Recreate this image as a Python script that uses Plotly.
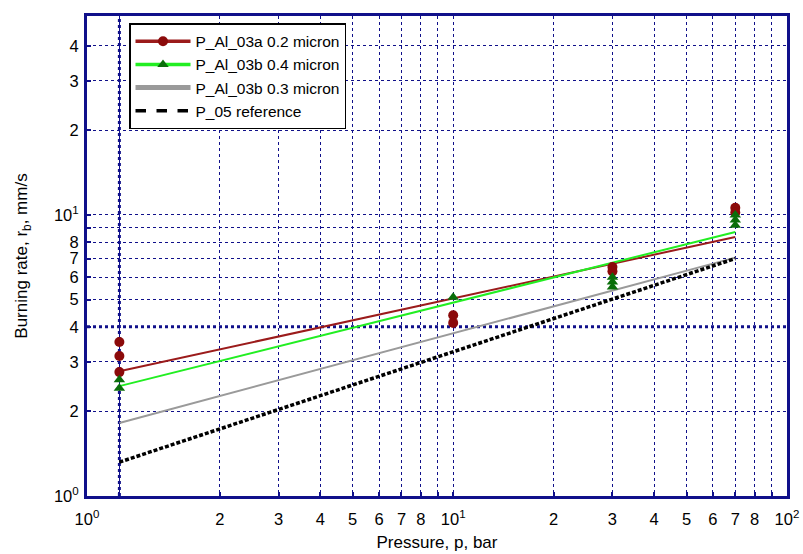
import plotly.graph_objects as go

# ---------------- data ----------------
pressure_fit = [1, 70]
fit_03a_02 = [2.78, 8.35]
fit_03b_04 = [2.46, 8.7]
fit_03b_03 = [1.82, 7.05]
ref_05 = [1.32, 7.0]

p_03a_pts = [1, 1, 1, 10, 10, 30, 30, 70, 70]
r_03a_pts = [3.53, 3.15, 2.76, 4.4, 4.13, 6.53, 6.3, 10.6, 10.2]

p_03b_pts = [1, 1, 10, 30, 30, 30, 70, 70, 70]
r_03b_pts = [2.59, 2.42, 5.1, 6.0, 5.78, 5.54, 10.0, 9.6, 9.2]

x_tickvals = [10 ** -0.097, 1, 2, 3, 4, 5, 6, 7, 8, 9, 10, 20, 30, 40, 50, 60, 70, 80, 90, 100]
x_ticktext = ["10<sup>0</sup>", "", "2", "3", "4", "5", "6", "7", "8", "", "10<sup>1</sup>",
              "2", "3", "4", "5", "6", "7", "8", "", "10<sup>2</sup>"]
y_tickvals = [1, 2, 3, 4, 5, 6, 7, 8, 9, 10, 20, 30, 40]
y_ticktext = ["10<sup>0</sup>", "2", "3", "4", "5", "6", "7", "8", "", "10<sup>1</sup>", "2", "3", "4"]

names = ["P_Al_03a 0.2 micron", "P_Al_03b 0.4 micron", "P_Al_03b 0.3 micron", "P_05 reference"]

NAVY = "#10108a"
RED_LINE = "#9b1b1b"
RED_MK = "#8b0a0a"
GREEN_LINE = "#22ee22"
GREEN_MK = "#0a6e0a"
GRAY = "#9a9a9a"
FONT = "Liberation Sans, Arial, sans-serif"

fig = go.Figure()

# fitted lines
fig.add_trace(go.Scatter(x=pressure_fit, y=fit_03b_03, mode="lines",
                         line=dict(color=GRAY, width=2), showlegend=False))
fig.add_trace(go.Scatter(x=pressure_fit, y=ref_05, mode="lines",
                         line=dict(color="black", width=3.5, dash="4px,2px"), showlegend=False))
fig.add_trace(go.Scatter(x=pressure_fit, y=fit_03a_02, mode="lines",
                         line=dict(color=RED_LINE, width=2), showlegend=False))
fig.add_trace(go.Scatter(x=pressure_fit, y=fit_03b_04, mode="lines",
                         line=dict(color=GREEN_LINE, width=2), showlegend=False))

# measured points
fig.add_trace(go.Scatter(x=p_03a_pts, y=r_03a_pts, mode="markers",
                         marker=dict(symbol="circle", size=10, color=RED_MK), showlegend=False))
fig.add_trace(go.Scatter(x=p_03b_pts, y=r_03b_pts, mode="markers",
                         marker=dict(symbol="triangle-up", size=10, color=GREEN_MK), showlegend=False))

# legend entries
fig.add_trace(go.Scatter(x=[None], y=[None], mode="lines+markers", name=names[0],
                         line=dict(color=RED_LINE, width=3.5),
                         marker=dict(symbol="circle", size=10, color=RED_MK)))
fig.add_trace(go.Scatter(x=[None], y=[None], mode="lines+markers", name=names[1],
                         line=dict(color=GREEN_LINE, width=3.5),
                         marker=dict(symbol="triangle-up", size=10, color=GREEN_MK)))
fig.add_trace(go.Scatter(x=[None], y=[None], mode="lines", name=names[2],
                         line=dict(color=GRAY, width=5)))
fig.add_trace(go.Scatter(x=[None], y=[None], mode="lines", name=names[3],
                         line=dict(color="black", width=3.5, dash="dash")))

# bold dotted reference lines (x = 1 and y = 4)
fig.add_shape(type="line", xref="x", yref="paper", x0=1, x1=1, y0=0, y1=1,
              line=dict(color=NAVY, width=3, dash="dot"), layer="below")
fig.add_shape(type="line", xref="paper", yref="y", x0=0, x1=1, y0=4, y1=4,
              line=dict(color=NAVY, width=3, dash="dot"), layer="below")

axis_common = dict(
    type="log", automargin=False,
    showline=True, mirror=True, linecolor=NAVY, linewidth=3,
    showgrid=True, gridcolor=NAVY, gridwidth=1.2, griddash="dot",
    ticks="inside", ticklen=4, tickcolor=NAVY, tickwidth=1.5,
    zeroline=False,
    tickfont=dict(family=FONT, size=16.5, color="black"),
    tickmode="array",
)

fig.update_xaxes(**axis_common, range=[-0.097, 2.0],
                 tickvals=x_tickvals, ticktext=x_ticktext, ticklabelstandoff=6,
                 title=dict(text="Pressure, p, bar", standoff=10,
                            font=dict(family=FONT, size=17, color="black")))
fig.update_yaxes(**axis_common, range=[0, 1.708],
                 tickvals=y_tickvals, ticktext=y_ticktext, ticklabelstandoff=2,
                 title=dict(text="Burning rate, r<sub>b</sub>, mm/s", standoff=22,
                            font=dict(family=FONT, size=17, color="black")))

fig.update_layout(
    width=803, height=554,
    margin=dict(l=87, r=16, t=16, b=58),
    paper_bgcolor="white", plot_bgcolor="white",
    showlegend=True,
    legend=dict(x=0.06, y=0.985, xanchor="left", yanchor="top",
                bgcolor="white", bordercolor="black", borderwidth=1.5,
                font=dict(family=FONT, size=15.5, color="black"),
                tracegroupgap=0, itemwidth=55),
)

fig.write_html("out.html")
